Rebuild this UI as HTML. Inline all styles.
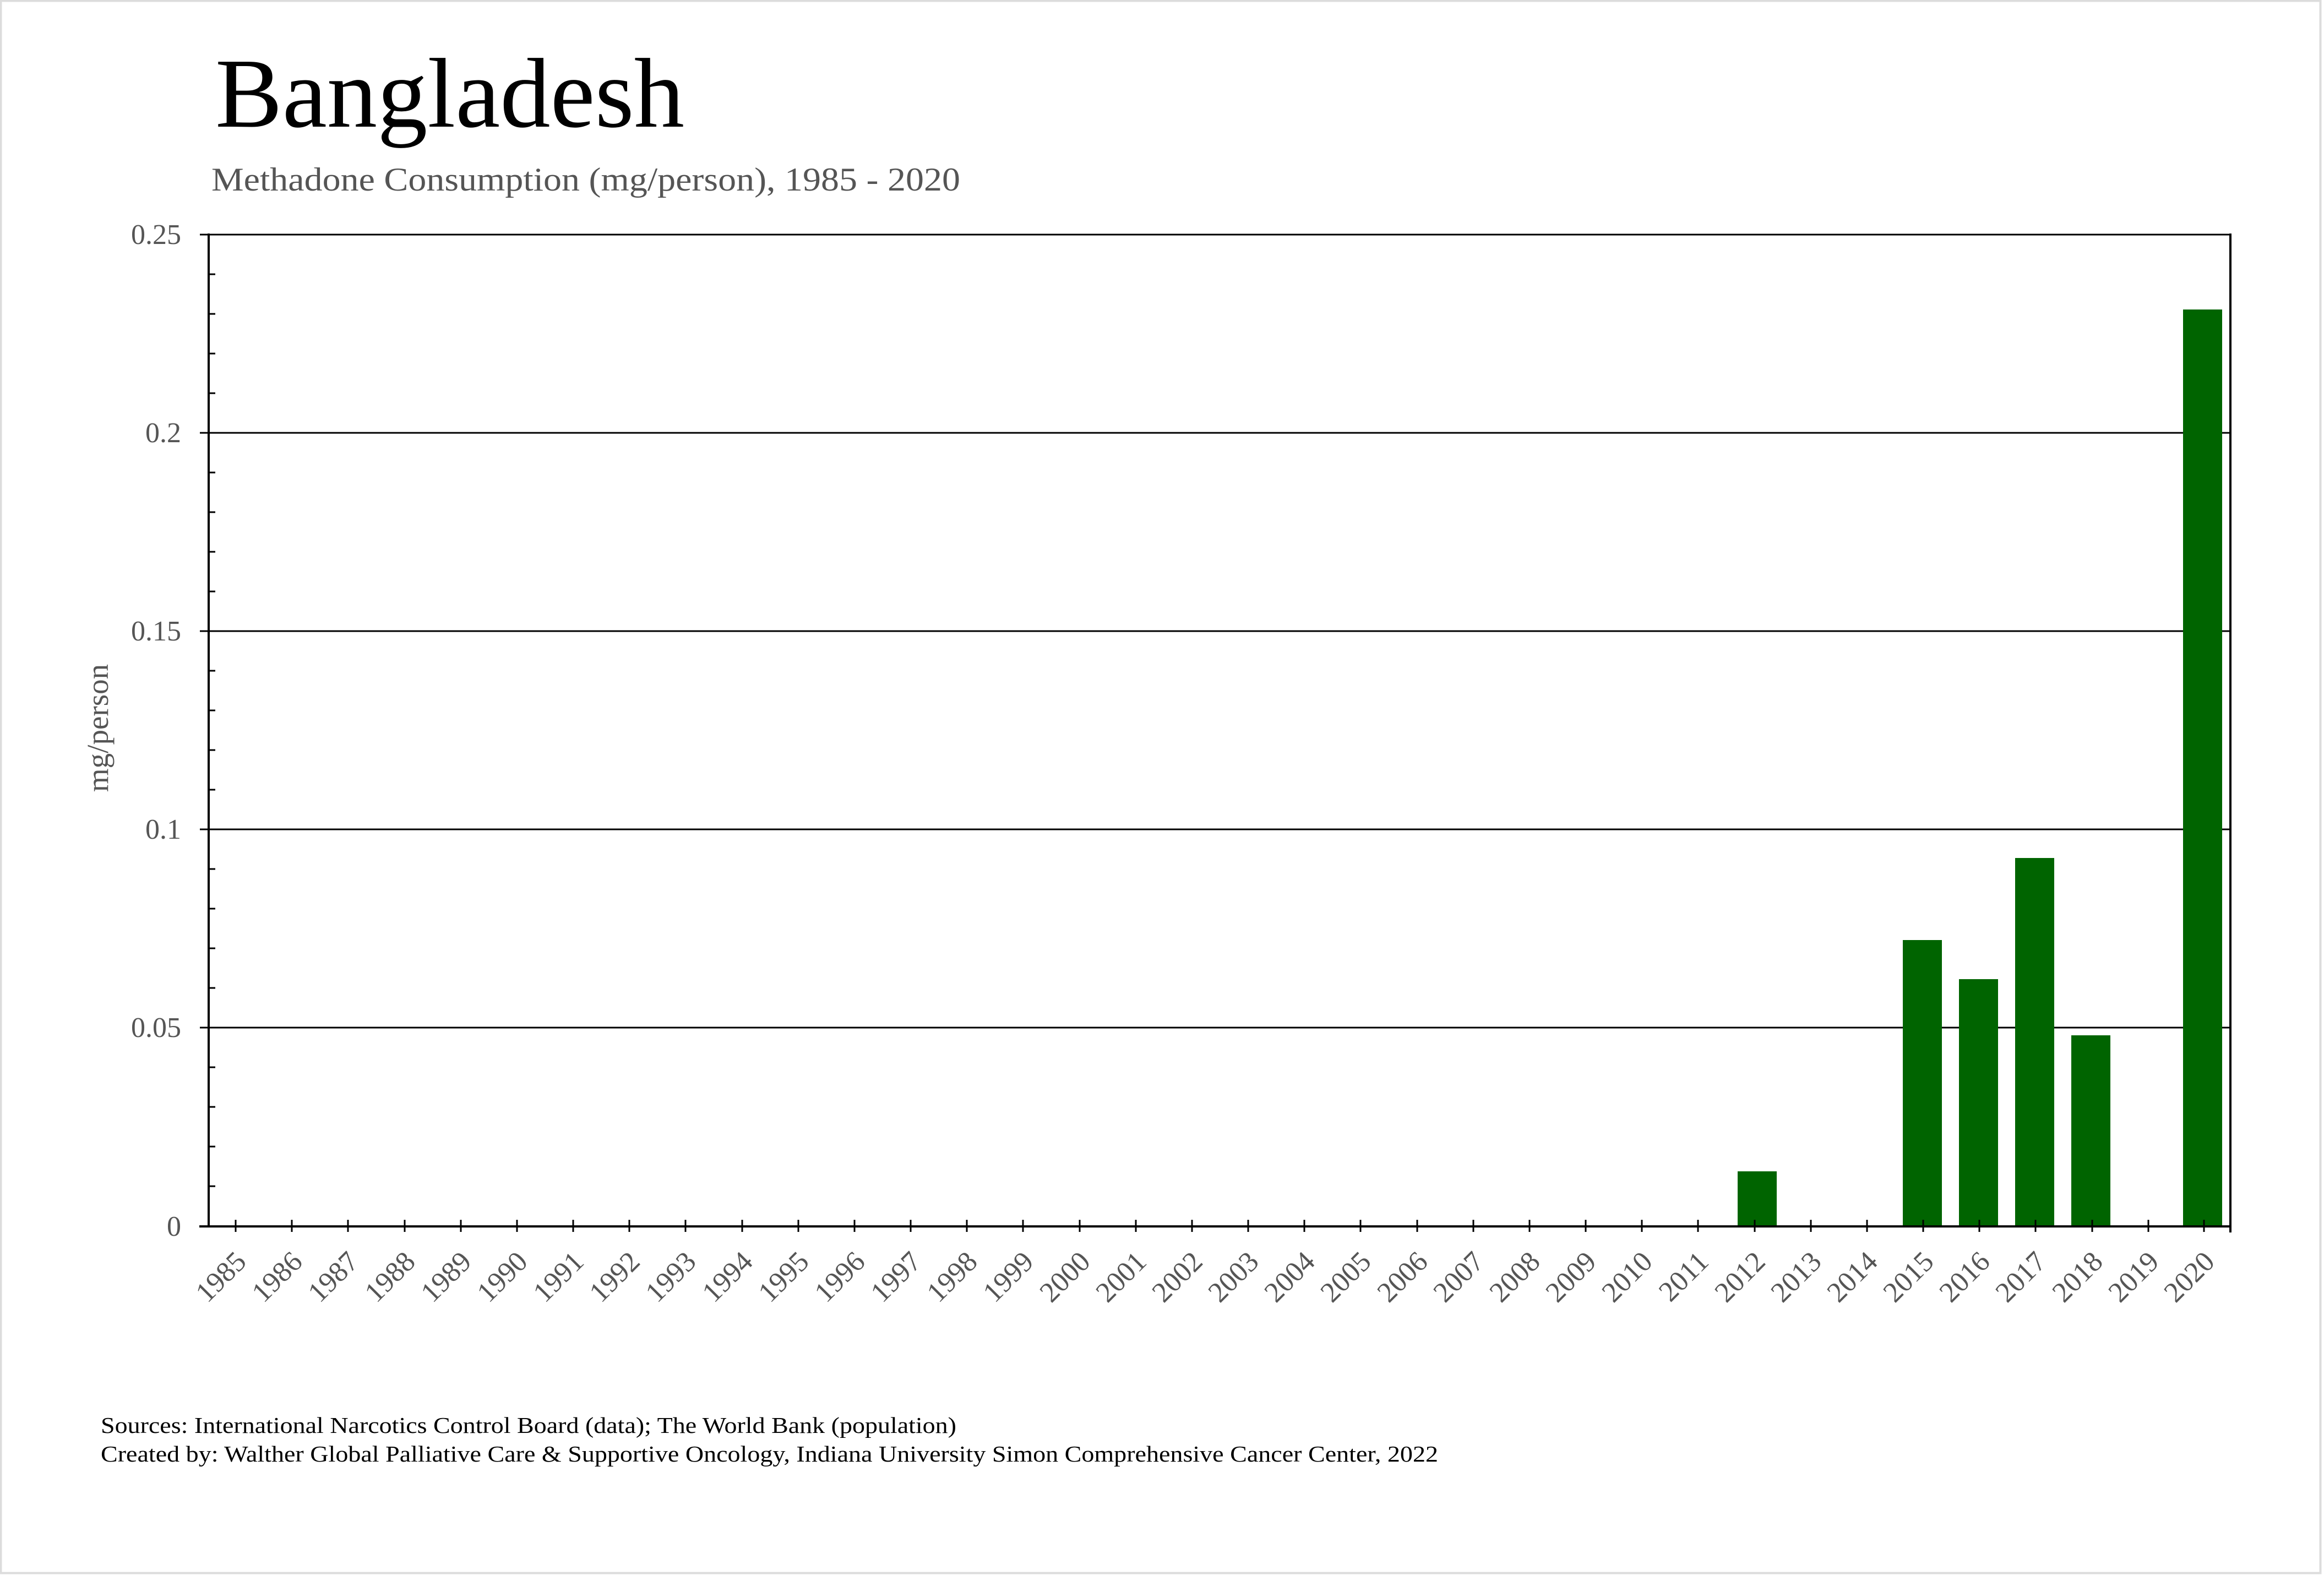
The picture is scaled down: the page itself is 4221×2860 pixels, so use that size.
<!DOCTYPE html>
<html><head><meta charset="utf-8"><style>html,body{margin:0;padding:0;background:#fff}svg{display:block}</style></head>
<body>
<svg width="4221" height="2860" viewBox="0 0 4221 2860" xmlns="http://www.w3.org/2000/svg" font-family="'Liberation Serif', serif">
<rect x="1.5" y="1.5" width="4213" height="2855" fill="#fff" stroke="#dcdcdc" stroke-width="4"/>
<text x="391" y="230" font-size="180" fill="#000" textLength="852" lengthAdjust="spacingAndGlyphs">Bangladesh</text>
<text x="384" y="346" font-size="60" fill="#555" textLength="1360" lengthAdjust="spacingAndGlyphs">Methadone Consumption (mg/person), 1985 - 2020</text>
<g stroke="#000" stroke-width="3">
<line x1="363" y1="426" x2="4051" y2="426"/>
<line x1="363" y1="786" x2="4051" y2="786"/>
<line x1="363" y1="1146" x2="4051" y2="1146"/>
<line x1="363" y1="1506" x2="4051" y2="1506"/>
<line x1="363" y1="1866" x2="4051" y2="1866"/>
</g>
<g fill="#006400">
<rect x="3156" y="2127" width="71" height="99"/>
<rect x="3456" y="1707" width="71" height="519"/>
<rect x="3558" y="1778" width="71" height="448"/>
<rect x="3660" y="1558" width="71" height="668"/>
<rect x="3762" y="1880" width="71" height="346"/>
<rect x="3965" y="562" width="71" height="1664"/>
</g>
<g stroke="#000" stroke-width="3" id="minor">
<line x1="379" y1="498" x2="391" y2="498"/><line x1="379" y1="570" x2="391" y2="570"/><line x1="379" y1="642" x2="391" y2="642"/><line x1="379" y1="714" x2="391" y2="714"/>
<line x1="379" y1="858" x2="391" y2="858"/><line x1="379" y1="930" x2="391" y2="930"/><line x1="379" y1="1002" x2="391" y2="1002"/><line x1="379" y1="1074" x2="391" y2="1074"/>
<line x1="379" y1="1218" x2="391" y2="1218"/><line x1="379" y1="1290" x2="391" y2="1290"/><line x1="379" y1="1362" x2="391" y2="1362"/><line x1="379" y1="1434" x2="391" y2="1434"/>
<line x1="379" y1="1578" x2="391" y2="1578"/><line x1="379" y1="1650" x2="391" y2="1650"/><line x1="379" y1="1722" x2="391" y2="1722"/><line x1="379" y1="1794" x2="391" y2="1794"/>
<line x1="379" y1="1938" x2="391" y2="1938"/><line x1="379" y1="2010" x2="391" y2="2010"/><line x1="379" y1="2082" x2="391" y2="2082"/><line x1="379" y1="2154" x2="391" y2="2154"/>
</g>
<g stroke="#000" stroke-width="4">
<line x1="379" y1="424" x2="379" y2="2228"/>
<line x1="4051" y1="424" x2="4051" y2="2238"/>
<line x1="362" y1="2227" x2="4053" y2="2227"/>
</g>
<g id="xt" stroke="#000" stroke-width="3"></g>
<g font-size="52" fill="#555" text-anchor="end">
<text x="329" y="443">0.25</text>
<text x="329" y="803">0.2</text>
<text x="329" y="1163">0.15</text>
<text x="329" y="1523">0.1</text>
<text x="329" y="1883">0.05</text>
<text x="329" y="2244">0</text>
</g>
<text transform="translate(196,1322) rotate(-90)" font-size="55" fill="#555" text-anchor="middle">mg/person</text>
<g id="xl" font-size="52" fill="#555" text-anchor="end"></g>
<text x="183" y="2602" font-size="41" fill="#000" textLength="1554" lengthAdjust="spacingAndGlyphs">Sources: International Narcotics Control Board (data); The World Bank (population)</text>
<text x="183" y="2654" font-size="41" fill="#000" textLength="2429" lengthAdjust="spacingAndGlyphs">Created by: Walther Global Palliative Care &amp; Supportive Oncology, Indiana University Simon Comprehensive Cancer Center, 2022</text>
<g stroke="#000" stroke-width="3">
<line x1="428" y1="2215" x2="428" y2="2237"/><line x1="530" y1="2215" x2="530" y2="2237"/><line x1="632" y1="2215" x2="632" y2="2237"/><line x1="735" y1="2215" x2="735" y2="2237"/><line x1="837" y1="2215" x2="837" y2="2237"/><line x1="939" y1="2215" x2="939" y2="2237"/><line x1="1041" y1="2215" x2="1041" y2="2237"/><line x1="1143" y1="2215" x2="1143" y2="2237"/><line x1="1245" y1="2215" x2="1245" y2="2237"/><line x1="1348" y1="2215" x2="1348" y2="2237"/><line x1="1450" y1="2215" x2="1450" y2="2237"/><line x1="1552" y1="2215" x2="1552" y2="2237"/><line x1="1654" y1="2215" x2="1654" y2="2237"/><line x1="1756" y1="2215" x2="1756" y2="2237"/><line x1="1858" y1="2215" x2="1858" y2="2237"/><line x1="1961" y1="2215" x2="1961" y2="2237"/><line x1="2063" y1="2215" x2="2063" y2="2237"/><line x1="2165" y1="2215" x2="2165" y2="2237"/><line x1="2267" y1="2215" x2="2267" y2="2237"/><line x1="2369" y1="2215" x2="2369" y2="2237"/><line x1="2471" y1="2215" x2="2471" y2="2237"/><line x1="2574" y1="2215" x2="2574" y2="2237"/><line x1="2676" y1="2215" x2="2676" y2="2237"/><line x1="2778" y1="2215" x2="2778" y2="2237"/><line x1="2880" y1="2215" x2="2880" y2="2237"/><line x1="2982" y1="2215" x2="2982" y2="2237"/><line x1="3084" y1="2215" x2="3084" y2="2237"/><line x1="3187" y1="2215" x2="3187" y2="2237"/><line x1="3289" y1="2215" x2="3289" y2="2237"/><line x1="3391" y1="2215" x2="3391" y2="2237"/><line x1="3493" y1="2215" x2="3493" y2="2237"/><line x1="3595" y1="2215" x2="3595" y2="2237"/><line x1="3697" y1="2215" x2="3697" y2="2237"/><line x1="3800" y1="2215" x2="3800" y2="2237"/><line x1="3902" y1="2215" x2="3902" y2="2237"/><line x1="4003" y1="2215" x2="4003" y2="2237"/>
</g>
<g font-size="52" fill="#555" text-anchor="end">
<text transform="translate(450,2294) rotate(-45)">1985</text><text transform="translate(552,2294) rotate(-45)">1986</text><text transform="translate(654,2294) rotate(-45)">1987</text><text transform="translate(757,2294) rotate(-45)">1988</text><text transform="translate(859,2294) rotate(-45)">1989</text><text transform="translate(961,2294) rotate(-45)">1990</text><text transform="translate(1063,2294) rotate(-45)">1991</text><text transform="translate(1165,2294) rotate(-45)">1992</text><text transform="translate(1267,2294) rotate(-45)">1993</text><text transform="translate(1370,2294) rotate(-45)">1994</text><text transform="translate(1472,2294) rotate(-45)">1995</text><text transform="translate(1574,2294) rotate(-45)">1996</text><text transform="translate(1676,2294) rotate(-45)">1997</text><text transform="translate(1778,2294) rotate(-45)">1998</text><text transform="translate(1880,2294) rotate(-45)">1999</text><text transform="translate(1983,2294) rotate(-45)">2000</text><text transform="translate(2085,2294) rotate(-45)">2001</text><text transform="translate(2187,2294) rotate(-45)">2002</text><text transform="translate(2289,2294) rotate(-45)">2003</text><text transform="translate(2391,2294) rotate(-45)">2004</text><text transform="translate(2493,2294) rotate(-45)">2005</text><text transform="translate(2596,2294) rotate(-45)">2006</text><text transform="translate(2698,2294) rotate(-45)">2007</text><text transform="translate(2800,2294) rotate(-45)">2008</text><text transform="translate(2902,2294) rotate(-45)">2009</text><text transform="translate(3004,2294) rotate(-45)">2010</text><text transform="translate(3106,2294) rotate(-45)">2011</text><text transform="translate(3209,2294) rotate(-45)">2012</text><text transform="translate(3311,2294) rotate(-45)">2013</text><text transform="translate(3413,2294) rotate(-45)">2014</text><text transform="translate(3515,2294) rotate(-45)">2015</text><text transform="translate(3617,2294) rotate(-45)">2016</text><text transform="translate(3719,2294) rotate(-45)">2017</text><text transform="translate(3822,2294) rotate(-45)">2018</text><text transform="translate(3924,2294) rotate(-45)">2019</text><text transform="translate(4025,2294) rotate(-45)">2020</text>
</g>
</svg>
</body></html>
